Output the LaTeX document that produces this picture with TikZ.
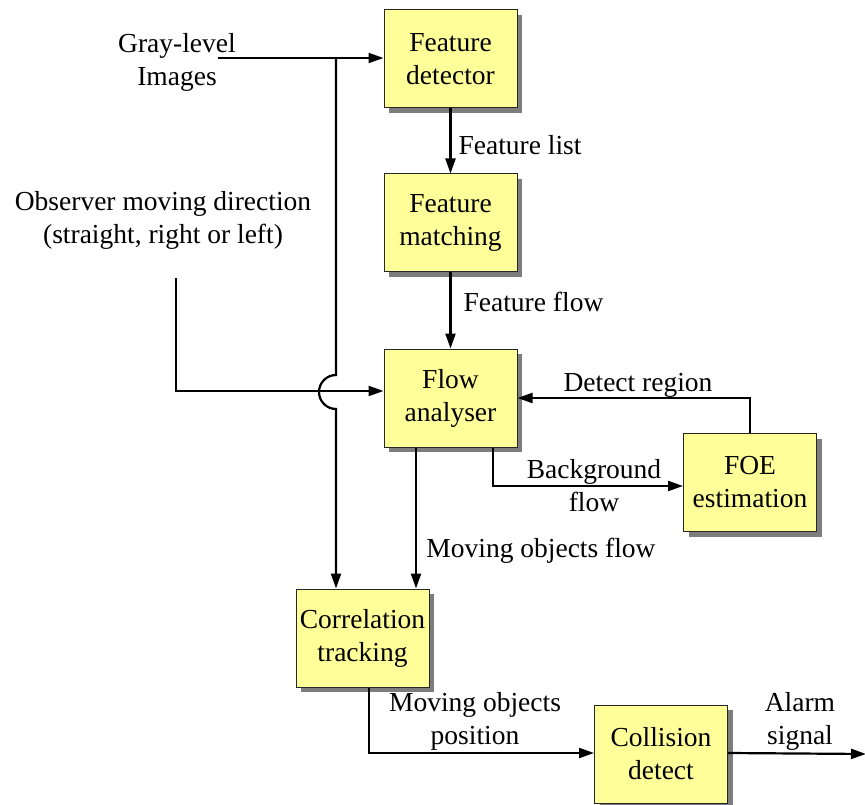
\documentclass[tikz,border=0pt]{standalone}
\usepackage{fontspec}
\setmainfont{Liberation Serif}
\newfontfamily\diagramfont{Liberation Serif}
\usetikzlibrary{arrows.meta,shadows}
\definecolor{boxfill}{RGB}{255,255,153}
\definecolor{shadowgray}{RGB}{125,125,125}
\tikzset{
  stage/.style={draw=black!85, line width=1pt, fill=boxfill,
    minimum width=133pt, minimum height=98pt, align=center, inner sep=0pt,
    drop shadow={shadow xshift=5pt, shadow yshift=-5pt, fill=shadowgray, opacity=1}},
  flow/.style={line width=2.2pt, -{Triangle[length=15pt,width=10pt]}},
  lbl/.style={align=center, inner sep=0pt},
}
\begin{document}
\begin{tikzpicture}[x=1pt, y=-1pt, font=\diagramfont\fontsize{27.5}{33}\selectfont]
\useasboundingbox (0,0) rectangle (865,805);

% processing stages
\node[stage] (fd)  at (450.5,59)  {Feature\\detector};
\node[stage] (fm)  at (450.5,223) {Feature\\matching};
\node[stage] (fa)  at (450.5,398) {Flow\\analyser};
\node[stage] (foe) at (750,482.5) {FOE\\estimation};
\node[stage] (ct)  at (362.5,638) {Correlation\\tracking};
\node[stage] (cd)  at (661,754)   {Collision\\detect};

% inputs and output
\node[lbl] (gray) at (177,62)  {Gray-level\\Images};
\node[lbl] (obs)  at (163,220) {Observer moving direction\\(straight, right or left)};
\coordinate (gin)   at (218,58);
\coordinate (split) at (336,58);
\coordinate (obsin) at (176,278);
\coordinate (alarm) at (866,754);

% image input to the detector and down to tracking (hopping over the direction line)
\draw[flow] (gin) -- (split) -- (fd.west |- split);
\draw[flow] (split) -- (336,375)
  arc[start angle=270, end angle=90, radius=17] -- (split |- ct.north);

% observer direction into the flow analyser
\draw[flow] (obsin) |- ([yshift=7pt]fa.west);

% main chain
\draw[flow] (fd.south) -- node[lbl, right=7pt, pos=0.56] (fl) {Feature list} (fm.north);
\draw[flow] (fm.south) -- node[lbl, right=12pt, pos=0.39] (ff) {Feature flow} (fa.north);

% FOE loop
\draw[flow] ([xshift=42.5pt]fa.south) |- ([yshift=-3.5pt]foe.west);
\node[lbl] (bg) at (594,486) {Background\\flow};
\draw[flow] (foe.north) |- (fa.east);
\node[lbl] (dr) at (638,385) {Detect region};

% moving objects to tracking
\draw[flow] ([xshift=-34.5pt]fa.south) -- ([xshift=-34.5pt]fa.south |- ct.north);
\node[lbl] (mof) at (541,551) {Moving objects flow};

% tracking to collision detection and alarm
\draw[flow] ([xshift=6.5pt]ct.south) |- ([yshift=1pt]cd.west);
\node[lbl] (mop) at (475,721) {Moving objects\\position};
\draw[flow] ([yshift=1pt]cd.east) -- (alarm);
\node[lbl] (al) at (800,721) {Alarm\\signal};
\end{tikzpicture}
\end{document}
